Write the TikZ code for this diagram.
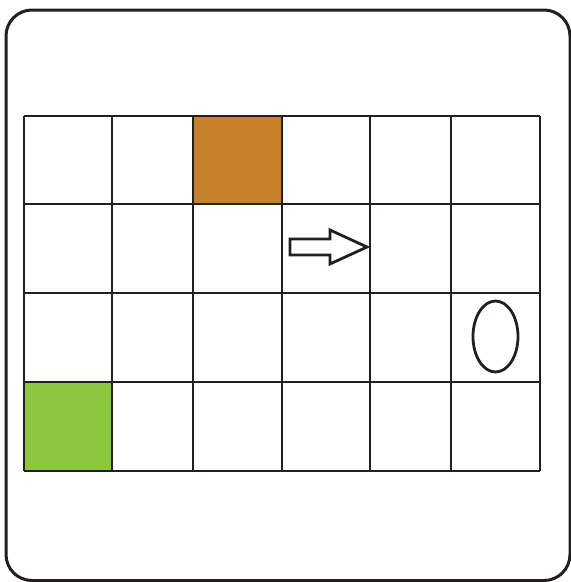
\documentclass[tikz,border=0pt]{standalone}
\usetikzlibrary{shapes.geometric}
\definecolor{cellorange}{HTML}{C8802B}
\definecolor{cellgreen}{HTML}{8DC63F}
\definecolor{inkc}{HTML}{231F20}
\begin{document}
\begin{tikzpicture}[x=1pt,y=-1pt,
  frame/.style={draw=inkc,line width=3pt,rounded corners=26pt},
  gridline/.style={draw=inkc,line width=2.2pt},
  shapeline/.style={draw=inkc,line width=2.8pt}]
\useasboundingbox (0,0) rectangle (571,582);
\fill[white] (0,0) rectangle (571,582);
\draw[frame] (6,10) rectangle (570,580.5);
% colored cells
\fill[cellorange] (193,116) rectangle (282,204);
\fill[cellgreen] (24,382) rectangle (112,471);
% grid
\foreach \x in {24,112,193,282,370,451,540} \draw[gridline] (\x,116) -- (\x,471);
\foreach \y in {116,204,293,382,471} \draw[gridline] (24,\y) -- (540,\y);
% arrow
\draw[shapeline,line join=miter] (290,239) -- (330,239) -- (330,230) -- (367,247) -- (330,264) -- (330,255) -- (290,255) -- cycle;
% ellipse
\node[shapeline,ellipse,minimum width=45pt,minimum height=71pt,inner sep=0pt] (oval) at (495.5,336.5) {};
\end{tikzpicture}
\end{document}
